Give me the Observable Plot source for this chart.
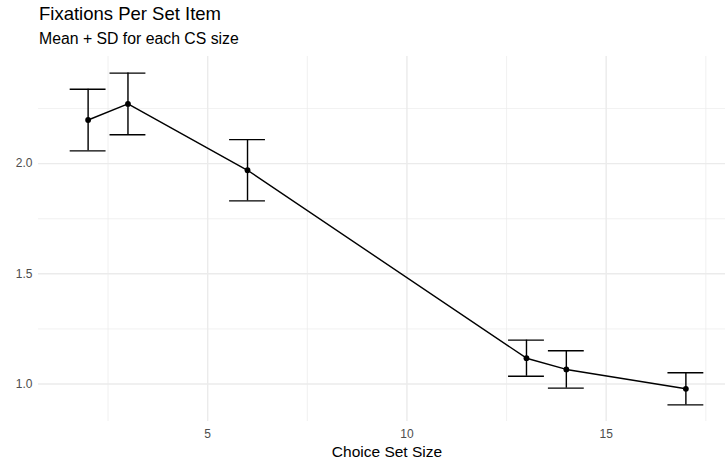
<!DOCTYPE html>
<html>
<head>
<meta charset="utf-8">
<script src="https://cdn.jsdelivr.net/npm/d3@7"></script>
<script src="https://cdn.jsdelivr.net/npm/@observablehq/plot@0.6"></script>
<style>
  html, body { margin: 0; padding: 0; background: #fff; }
  #wrap { position: relative; width: 725px; height: 462px; overflow: hidden;
          font-family: "Liberation Sans", Arial, Helvetica, sans-serif; }
  #title { position: absolute; left: 39px; top: 4.5px; font-size: 18.5px; line-height: 1; color: #000; white-space: nowrap; }
  #subtitle { position: absolute; left: 39px; top: 31px; font-size: 15.8px; line-height: 1; color: #000; white-space: nowrap; }
  #chart { position: absolute; left: 0; top: 0; }
</style>
</head>
<body>
<div id="wrap">
  <div id="chart"></div>
  <div id="title">Fixations Per Set Item</div>
  <div id="subtitle">Mean + SD for each CS size</div>
</div>
<script>
// Choice set sizes with mean fixations per item and their standard deviations
const setSizes = [2, 3, 6, 13, 14, 17];
const meanFixations = [2.198, 2.271, 1.970, 1.117, 1.066, 0.978];
const sdFixations = [0.140, 0.140, 0.139, 0.082, 0.085, 0.073];

// Axis ticks and grid positions
const xTicks = [5, 10, 15];
const xMinor = [2.5, 7.5, 12.5, 17.5];
const yTicks = [1.0, 1.5, 2.0];
const yMinor = [1.25, 1.75, 2.25];

const barWidth = 0.9;

const rows = setSizes.map((s, i) => ({
  size: s,
  mean: meanFixations[i],
  lo: meanFixations[i] - sdFixations[i],
  hi: meanFixations[i] + sdFixations[i],
  x1: s - barWidth / 2,
  x2: s + barWidth / 2
}));

// 5% padding on each side of the data extent
function padded(lo, hi) {
  const p = (hi - lo) * 0.05;
  return [lo - p, hi + p];
}
const xDomain = padded(d3.min(rows, d => d.x1), d3.max(rows, d => d.x2));
const yDomain = padded(d3.min(rows, d => d.lo), d3.max(rows, d => d.hi));

const grid = "#EBEBEB";

const chart = Plot.plot({
  width: 725,
  height: 462,
  marginLeft: 38,
  marginRight: -10,
  marginTop: 56,
  marginBottom: 41,
  style: { fontFamily: "Liberation Sans, Arial, Helvetica, sans-serif", background: "transparent" },
  x: { domain: xDomain },
  y: { domain: yDomain },
  marks: [
    Plot.ruleX(xMinor, { stroke: grid, strokeWidth: 0.71 }),
    Plot.ruleY(yMinor, { stroke: grid, strokeWidth: 0.71 }),
    Plot.ruleX(xTicks, { stroke: grid, strokeWidth: 1.42 }),
    Plot.ruleY(yTicks, { stroke: grid, strokeWidth: 1.42 }),
    Plot.axisX({ ticks: xTicks, tickSize: 0, tickPadding: 8, fontSize: 12, color: "#4D4D4D", label: null }),
    Plot.axisX({ ticks: [], tickSize: 0, label: "Choice Set Size", labelAnchor: "center", labelArrow: "none",
                 labelOffset: 35.5, fontSize: 15.5, color: "#000" }),
    Plot.axisY({ ticks: yTicks, tickFormat: d3.format(".1f"), tickSize: 0, tickPadding: 6, fontSize: 12,
                 color: "#4D4D4D", label: null }),
    Plot.ruleX(rows, { x: "size", y1: "lo", y2: "hi", stroke: "#000", strokeWidth: 1.42 }),
    Plot.ruleY(rows, { y: "hi", x1: "x1", x2: "x2", stroke: "#000", strokeWidth: 1.42 }),
    Plot.ruleY(rows, { y: "lo", x1: "x1", x2: "x2", stroke: "#000", strokeWidth: 1.42 }),
    Plot.line(rows, { x: "size", y: "mean", stroke: "#000", strokeWidth: 1.42 }),
    Plot.dot(rows, { x: "size", y: "mean", r: 2.9, fill: "#000", stroke: "none" })
  ]
});
document.getElementById("chart").appendChild(chart);
</script>
</body>
</html>
